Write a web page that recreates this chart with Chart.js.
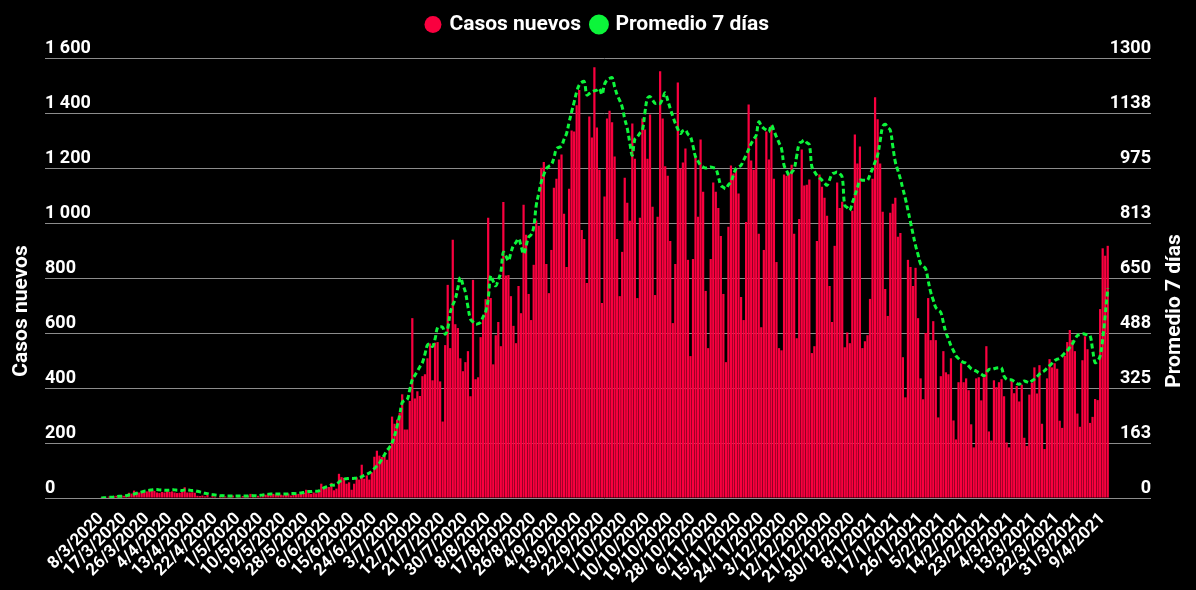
<!DOCTYPE html>
<html lang="es">
<head>
<meta charset="utf-8">
<title>Casos nuevos</title>
<script src="https://cdn.jsdelivr.net/npm/chart.js@4.4.1/dist/chart.umd.min.js"></script>
<style>
  html, body { margin: 0; padding: 0; background: #000; }
  #contenedor { width: 1196px; height: 590px; }
</style>
</head>
<body>
<div id="contenedor"><canvas id="grafico"></canvas></div>
<script>
// --- DATOS ---
const fechaInicio = new Date(2020, 2, 8);
const totalDias = 399;
const fechaOmitida = '31/1/2021';   // día sin reporte en la serie

const casosNuevos = [
  1,4,2,5,3,6,8,4,9,8,
  12,19,16,27,22,20,25,21,24,30,
  33,26,20,18,22,20,25,22,24,20,
  18,19,22,39,20,20,21,19,8,7,
  9,6,12,3,7,5,2,8,4,6,
  3,5,9,2,6,4,7,5,8,15,
  5,3,8,4,15,12,14,10,15,13,
  11,12,10,14,16,9,11,13,15,22,
  18,30,18,15,20,17,27,52,36,38,
  40,55,28,34,88,76,73,52,57,30,
  52,75,67,121,70,82,67,93,150,172,
  154,149,153,139,188,296,270,285,310,377,
  249,249,353,654,362,388,371,443,450,508,
  562,428,565,567,424,278,556,775,545,939,
  632,618,508,461,494,534,370,793,432,439,
  585,650,723,1019,727,486,592,640,552,1076,
  809,811,734,626,563,771,672,1066,957,742,
  647,848,1009,990,1201,1222,851,745,902,1128,
  1161,1231,1249,1034,840,1125,1336,1333,1428,1484,
  975,942,782,1387,1311,1566,1347,1194,709,1096,
  1380,1408,1366,1242,942,734,895,1165,1074,1008,
  1362,1234,727,1019,1380,1340,1234,1395,1059,738,
  1023,1552,1380,1206,1172,935,636,851,1511,1198,
  1220,1271,866,516,869,1238,1023,1304,1114,753,
  545,869,1147,1114,1055,953,742,494,986,1209,
  1180,1198,1107,731,647,1004,1431,1227,1194,1311,
  961,621,902,1333,1231,1355,1161,858,545,537,
  1176,1172,1180,1212,961,581,1015,1267,1136,1139,
  1158,527,552,935,1176,1132,1092,1026,771,640,
  917,1147,1055,1077,548,602,563,1045,1322,1216,
  1278,545,570,592,724,1161,1457,1377,1216,1041,
  760,662,1037,1070,1092,950,964,512,366,866,
  840,771,837,654,435,359,600,727,574,643,
  574,293,443,534,457,450,508,282,213,421,
  490,421,435,392,268,184,435,439,355,439,
  552,242,209,428,403,421,432,370,202,184,
  430,381,407,351,412,219,189,376,419,475,
  380,483,270,178,435,505,475,490,470,281,
  255,517,567,611,574,534,307,259,501,588,
  541,273,295,360,356,687,908,881,917
];

const promedio7 = [
  0,1,1,2,2,3,4,5,5,6,
  7,9,10,12,14,16,18,20,21,23,
  24,25,25,24,24,23,23,23,24,24,
  23,23,22,24,24,23,22,22,20,18,
  16,14,13,11,10,9,8,7,7,6,
  6,6,6,6,6,6,6,6,6,7,
  7,7,7,8,9,10,11,12,12,12,
  12,12,12,12,12,13,13,13,14,15,
  16,18,19,19,20,20,21,25,30,33,
  35,38,38,40,47,52,56,57,58,58,
  58,59,60,63,67,70,74,79,87,95,
  103,115,128,140,150,163,185,212,245,282,
  288,291,320,350,362,375,388,400,425,452,
  455,448,470,504,506,504,484,500,548,570,
  588,620,652,630,608,565,529,520,514,515,
  519,535,550,588,657,640,627,645,667,726,715,
  701,725,746,755,766,745,721,745,771,778,
  800,864,900,934,955,973,980,985,1005,1032,
  1036,1040,1060,1077,1110,1141,1170,1200,1220,1228,
  1230,1191,1195,1200,1203,1205,1210,1192,1222,1235,
  1240,1242,1215,1191,1175,1155,1120,1092,1050,1013,
  1060,1067,1078,1087,1140,1181,1186,1176,1166,1166,
  1166,1180,1197,1175,1151,1128,1107,1090,1077,1085,
  1087,1075,1067,1040,1008,995,983,978,975,976,
  978,976,973,950,924,918,914,925,934,955,
  973,978,983,998,1013,1030,1047,1060,1072,1111,
  1100,1092,1087,1082,1102,1085,1067,1050,1032,983,
  968,953,962,973,1010,1047,1052,1057,1050,1044,
  979,965,953,946,939,931,924,940,958,960,
  963,958,948,865,858,850,872,894,916,939,
  939,939,939,956,973,993,1013,1055,1097,1104,1095,
  1087,1040,993,968,943,913,884,850,815,780,
  746,719,692,685,677,642,608,585,563,555,
  548,518,489,470,450,435,420,412,405,401,
  398,390,382,378,375,370,366,361,370,380,
  380,382,384,385,384,360,351,349,
  349,344,338,336,342,346,343,341,346,351,358,366,
  371,376,384,391,398,406,410,
  413,420,428,435,
  445,455,468,480,483,485,484,482,480,440,
  400,405,420,470,540,620
];

const ejeIzqMax = 1600;
const ejeIzqPaso = 200;
const ejeDerMax = 1300;
const ejeDerPaso = 162.5;
const cadaEtiqueta = 9;

// --- FECHAS ---
const fechas = [];
const d = new Date(fechaInicio);
while (fechas.length < totalDias) {
    const txt = `${d.getDate()}/${d.getMonth() + 1}/${d.getFullYear()}`;
    if (txt !== fechaOmitida) fechas.push(txt);
    d.setDate(d.getDate() + 1);
}

const miles = (v) => String(v).replace(/\B(?=(\d{3})+(?!\d))/g, ' ');
const gris = '#8c8c8c';
const fuenteEje = { family: 'Roboto', size: 18, weight: 'bold' };

// mas aire debajo de la leyenda
const espacioLeyenda = {
    id: 'espacioLeyenda',
    beforeInit(chart) {
        const fitOriginal = chart.legend.fit;
        chart.legend.fit = function () {
            fitOriginal.bind(chart.legend)();
            this.height += 13;
        };
    }
};

// titulos verticales de los ejes (leen de abajo hacia arriba)
const titulosEjes = {
    id: 'titulosEjes',
    afterDraw(chart) {
        const { ctx, chartArea, scales } = chart;
        const yMedio = (chartArea.top + chartArea.bottom) / 2 + 33;
        const dibujar = (x, texto) => {
            ctx.save();
            ctx.translate(x, yMedio);
            ctx.rotate(-Math.PI / 2);
            ctx.font = 'bold 21px Roboto';
            ctx.fillStyle = '#fff';
            ctx.textAlign = 'center';
            ctx.textBaseline = 'middle';
            ctx.fillText(texto, 0, 0);
            ctx.restore();
        };
        dibujar(scales.y.left + 22, 'Casos nuevos');
        dibujar(scales.y1.right - 21, 'Promedio 7 días');
    }
};

Chart.defaults.font.family = 'Roboto';
Chart.defaults.color = '#fff';

new Chart(document.getElementById('grafico'), {
    type: 'bar',
    data: {
        labels: fechas,
        datasets: [
            {
                label: 'Casos nuevos',
                data: casosNuevos,
                backgroundColor: '#fa003f',
                barPercentage: 0.88,
                categoryPercentage: 1,
                yAxisID: 'y',
                order: 2
            },
            {
                type: 'line',
                label: 'Promedio 7 días',
                data: promedio7,
                borderColor: '#0cf53a',
                backgroundColor: '#0cf53a',
                borderWidth: 3,
                borderDash: [5, 3],
                pointRadius: 0,
                tension: 0.4,
                yAxisID: 'y1',
                order: 1
            }
        ]
    },
    options: {
        responsive: true,
        maintainAspectRatio: false,
        animation: false,
        layout: { padding: { top: 2, left: 0, right: 0, bottom: 0 } },
        plugins: {
            legend: {
                position: 'top',
                labels: {
                    usePointStyle: true,
                    pointStyle: 'circle',
                    boxWidth: 12,
                    boxHeight: 12,
                    padding: 12,
                    color: '#fff',
                    font: { family: 'Roboto', size: 21, weight: 'bold' },
                    sort: (a, b) => a.datasetIndex - b.datasetIndex
                }
            },
            tooltip: { enabled: false }
        },
        scales: {
            x: {
                grid: { display: false },
                border: { display: false },
                ticks: {
                    autoSkip: false,
                    minRotation: 45,
                    maxRotation: 45,
                    color: '#fff',
                    font: { family: 'Roboto', size: 17, weight: 'bold' },
                    callback(valor, i) {
                        return i % cadaEtiqueta === 0 ? this.getLabelForValue(valor) : null;
                    }
                },
                afterFit(escala) { escala.height = 92; }
            },
            y: {
                position: 'left',
                min: 0,
                max: ejeIzqMax,
                border: { display: false },
                grid: { color: gris, tickColor: gris, tickLength: 55 },
                ticks: {
                    stepSize: ejeIzqPaso,
                    mirror: true,
                    padding: -55,
                    labelOffset: -10,
                    color: '#fff',
                    font: fuenteEje,
                    callback: (v) => miles(v)
                },
                afterFit(escala) { escala.width = 100; }
            },
            y1: {
                position: 'right',
                min: 0,
                max: ejeDerMax,
                border: { display: false },
                grid: { drawOnChartArea: false, color: gris, tickColor: gris, tickLength: 42 },
                ticks: {
                    stepSize: ejeDerPaso,
                    mirror: true,
                    padding: 42,
                    labelOffset: -10,
                    color: '#fff',
                    font: fuenteEje,
                    callback: (v) => Math.round(v)
                },
                afterFit(escala) { escala.width = 87; }
            }
        }
    },
    plugins: [espacioLeyenda, titulosEjes]
});
</script>
</body>
</html>
